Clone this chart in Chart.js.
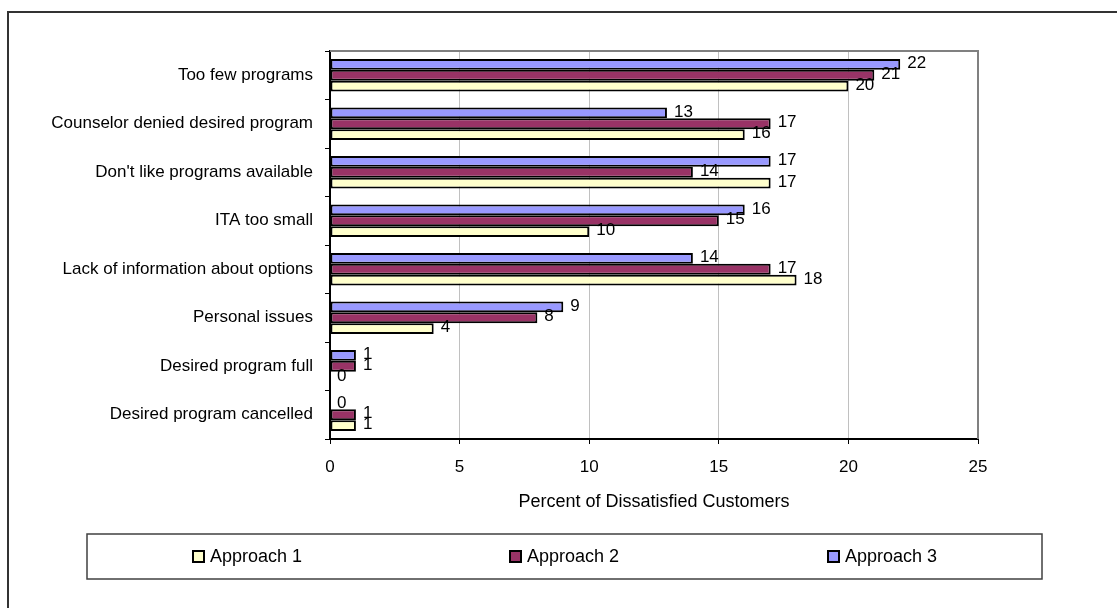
<!DOCTYPE html>
<html>
<head>
<meta charset="utf-8">
<script src="https://cdn.jsdelivr.net/npm/chart.js@4/dist/chart.umd.min.js"></script>
<style>
  html, body { margin: 0; padding: 0; background: #fff; }
  #wrap { position: relative; width: 1117px; height: 608px; }
</style>
</head>
<body>
<div id="wrap"><canvas id="myChart" width="1117" height="608"></canvas></div>
<script>
// categories, top to bottom
const categories = [
  'Too few programs',
  'Counselor denied desired program',
  "Don't like programs available",
  'ITA too small',
  'Lack of information about options',
  'Personal issues',
  'Desired program full',
  'Desired program cancelled'
];
const approach1 = [20, 16, 17, 10, 18, 4, 0, 1];
const approach2 = [21, 17, 14, 15, 17, 8, 1, 1];
const approach3 = [22, 13, 17, 16, 14, 9, 1, 0];
const xTicks = [0, 5, 10, 15, 20, 25];

const FONT = '"Liberation Sans", Arial, sans-serif';
const FS = 17;

// value labels right of each bar
const barLabels = {
  id: 'barLabels',
  afterDatasetsDraw(chart) {
    const ctx = chart.ctx;
    ctx.save();
    ctx.font = FS + 'px ' + FONT;
    ctx.fillStyle = '#000';
    ctx.textBaseline = 'middle';
    ctx.textAlign = 'left';
    chart.data.datasets.forEach((ds, i) => {
      chart.getDatasetMeta(i).data.forEach((bar, j) => {
        ctx.fillText(String(ds.data[j]), bar.x + 7, bar.y - 1);
      });
    });
    ctx.restore();
  }
};

// frame, plot border and legend box
const frame = {
  id: 'frame',
  afterDraw(chart) {
    const ctx = chart.ctx;
    const a = chart.chartArea;
    ctx.save();
    // outer frame (top + left only)
    ctx.strokeStyle = '#333';
    ctx.lineWidth = 2;
    ctx.beginPath();
    ctx.moveTo(8, 608);
    ctx.lineTo(8, 12);
    ctx.lineTo(1117, 12);
    ctx.stroke();
    // plot border top + right
    ctx.strokeStyle = '#808080';
    ctx.lineWidth = 2;
    ctx.beginPath();
    ctx.moveTo(a.left, a.top);
    ctx.lineTo(a.right, a.top);
    ctx.lineTo(a.right, a.bottom);
    ctx.stroke();
    // legend box
    ctx.strokeStyle = '#404040';
    ctx.lineWidth = 1.5;
    ctx.strokeRect(87, 534, 955, 45);
    const pos = [193, 510, 828];
    const order = [2, 1, 0];
    ctx.font = '18px ' + FONT;
    ctx.textBaseline = 'middle';
    ctx.textAlign = 'left';
    order.forEach((di, k) => {
      const ds = chart.data.datasets[di];
      ctx.fillStyle = ds.backgroundColor;
      ctx.fillRect(pos[k], 551, 11, 11);
      ctx.strokeStyle = '#000';
      ctx.lineWidth = 2;
      ctx.strokeRect(pos[k], 551, 11, 11);
      ctx.fillStyle = '#000';
      ctx.fillText(ds.label, pos[k] + 17, 557);
    });
    ctx.restore();
  }
};

const ctx = document.getElementById('myChart');
new Chart(ctx, {
  type: 'bar',
  data: {
    labels: categories,
    datasets: [
      { label: 'Approach 3', data: approach3, backgroundColor: '#9999FF' },
      { label: 'Approach 2', data: approach2, backgroundColor: '#993366' },
      { label: 'Approach 1', data: approach1, backgroundColor: '#FFFFCC' }
    ].map(d => Object.assign(d, {
      borderColor: '#000',
      borderWidth: 2,
      borderSkipped: false,
      categoryPercentage: 0.67,
      barPercentage: 1
    }))
  },
  options: {
    indexAxis: 'y',
    responsive: false,
    animation: false,
    layout: { padding: { top: 51, right: 139, bottom: 93, left: 0 } },
    plugins: {
      legend: { display: false },
      tooltip: { enabled: false }
    },
    scales: {
      y: {
        afterFit: s => { s.width = 330; },
        grid: { display: true, drawOnChartArea: false, drawTicks: true, tickLength: 5, tickColor: '#000', offset: true },
        border: { color: '#000', width: 2 },
        ticks: { color: '#000', padding: 12, font: { family: FONT, size: FS } }
      },
      x: {
        min: 0,
        max: 25,
        afterFit: s => { s.height = 76; },
        afterBuildTicks: s => { s.ticks = xTicks.map(v => ({ value: v })); },
        grid: { color: '#c0c0c0', tickColor: '#000', tickLength: 5, lineWidth: 1 },
        border: { color: '#000', width: 2 },
        ticks: { color: '#000', padding: 13, font: { family: FONT, size: FS } },
        title: {
          display: true,
          text: 'Percent of Dissatisfied Customers',
          color: '#000',
          font: { family: FONT, size: 18 },
          padding: { top: 0, bottom: 2 }
        }
      }
    }
  },
  plugins: [barLabels, frame]
});
</script>
</body>
</html>
